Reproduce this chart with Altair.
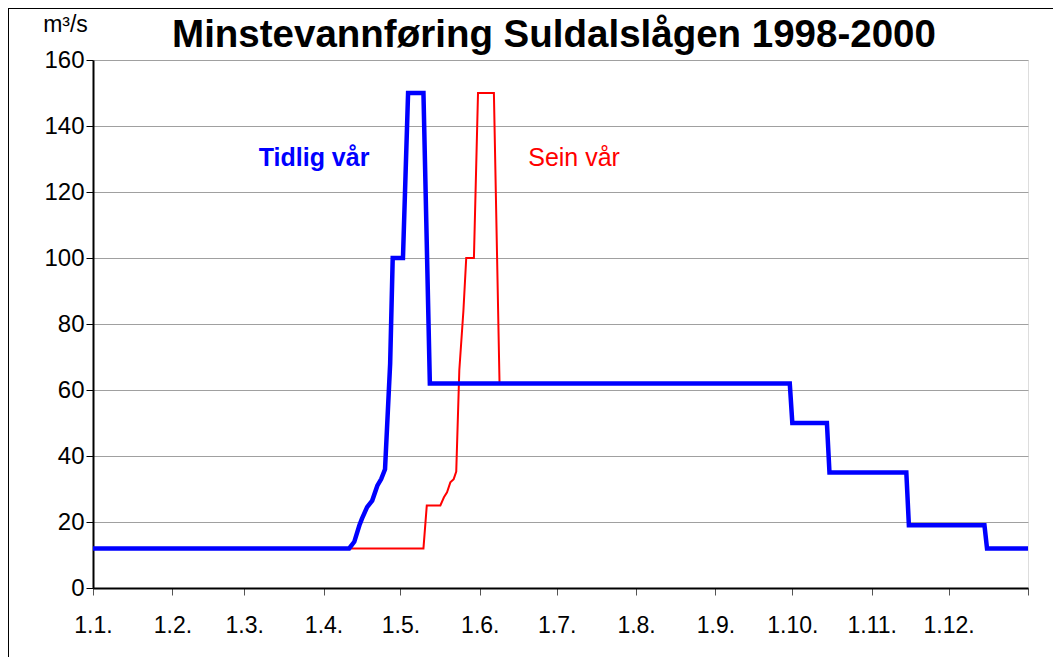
import altair as alt
import pandas as pd

# ---- data (day of year, m3/s) ----
blue_days = [1, 101, 103, 105, 106, 108, 110, 112, 113.5, 115, 117, 118, 122, 123, 124, 130, 132.5,
             273, 274, 287.5, 288.5, 318.5, 319.5, 349, 350, 366]
blue_vals = [12, 12, 14, 19, 21, 24.5, 26.5, 31, 33, 36, 68, 100, 100, 125, 150, 150, 62,
             62, 50, 50, 35, 35, 19, 19, 12, 12]

red_days = [1, 130, 131.3, 136.6, 138, 139.2, 140.5, 141.8, 142.8, 144, 145.6, 146.7, 149.7,
            151.3, 157.5, 159.7, 273, 274, 287.5, 288.5, 318.5, 319.5, 349, 350, 366]
red_vals = [12, 12, 25, 25, 27.5, 29, 32, 33, 35.3, 66, 84, 100, 100,
            150, 150, 62, 62, 50, 50, 35, 35, 19, 19, 12, 12]

month_days = [1, 32, 60, 91, 121, 152, 182, 213, 244, 274, 305, 335]
month_labels = ["1.1.", "1.2.", "1.3.", "1.4.", "1.5.", "1.6.", "1.7.", "1.8.",
                "1.9.", "1.10.", "1.11.", "1.12."]
year_end = 366

y_ticks = [0, 20, 40, 60, 80, 100, 120, 140, 160]

label_names = ["Tidlig vår", "Sein vår"]
label_days = [87.3, 188.8]
label_vals = [128, 128]

title_text = "Minstevannføring Suldalslågen 1998-2000"

FONT = "Liberation Sans"

blue_df = pd.DataFrame({"day": blue_days, "q": blue_vals, "order": range(len(blue_days))})
red_df = pd.DataFrame({"day": red_days, "q": red_vals, "order": range(len(red_days))})

# label expression for x axis
expr = "''"
for d, lab in reversed(list(zip(month_days, month_labels))):
    expr = f"datum.value == {d} ? '{lab}' : ({expr})"

x_scale = alt.Scale(domain=[1, year_end], nice=False, zero=False)
y_scale = alt.Scale(domain=[0, 160], nice=False)

x_enc = alt.X("day:Q", scale=x_scale,
              axis=alt.Axis(values=month_days + [year_end], labelExpr=expr, title=None,
                            grid=False, tickSize=7, tickColor="#555555",
                            domainColor="#000000", domainWidth=2,
                            labelFont=FONT, labelFontSize=23, labelColor="#000000",
                            labelPadding=19, labelFlush=False))
y_enc = alt.Y("q:Q", scale=y_scale,
              axis=alt.Axis(values=y_ticks, title="m³/s", titleAngle=0, titleX=-28, titleY=-29,
                            titleAlign="center", titleBaseline="alphabetic",
                            titleFont=FONT, titleFontSize=23, titleFontWeight="normal",
                            titleColor="#000000",
                            grid=True, gridColor="#a0a0a0", gridWidth=1,
                            tickSize=7, tickColor="#000000",
                            domainColor="#000000", domainWidth=2,
                            labelFont=FONT, labelFontSize=24, labelColor="#000000",
                            labelPadding=2))

red_line = alt.Chart(red_df).mark_line(color="#ff0000", strokeWidth=2).encode(
    x=x_enc, y=y_enc, order="order:Q")
blue_line = alt.Chart(blue_df).mark_line(color="#0000ff", strokeWidth=4.5).encode(
    x="day:Q", y="q:Q", order="order:Q")

lab_df = pd.DataFrame({"name": label_names, "day": label_days, "q": label_vals})
tidlig = alt.Chart(lab_df.iloc[[0]]).mark_text(
    font=FONT, fontSize=25, fontWeight="bold", color="#0000ff", baseline="alphabetic", align="center"
).encode(x="day:Q", y="q:Q", text="name:N")
sein = alt.Chart(lab_df.iloc[[1]]).mark_text(
    font=FONT, fontSize=25, color="#ff0000", baseline="alphabetic", align="center"
).encode(x="day:Q", y="q:Q", text="name:N")

# chart title as a text element above the plot area
title_mark = alt.Chart(pd.DataFrame({"t": [title_text]})).mark_text(
    font=FONT, fontSize=38.5, fontWeight="bold", color="#000000", baseline="alphabetic", align="center"
).encode(x=alt.value(461), y=alt.value(-13), text="t:N")

# outer chart-area frame (left and top edges)
frame_left = alt.Chart(pd.DataFrame({"a": [0]})).mark_rule(color="#000000", strokeWidth=1).encode(
    x=alt.value(-84.5), y=alt.value(-52), y2=alt.value(600))
frame_top = alt.Chart(pd.DataFrame({"a": [0]})).mark_rule(color="#000000", strokeWidth=1).encode(
    x=alt.value(-85), x2=alt.value(960), y=alt.value(-51.5))

chart = alt.layer(red_line, blue_line, tidlig, sein, title_mark, frame_left, frame_top).properties(
    width=935, height=528,
    autosize=alt.AutoSizeParams(type="none"),
    padding={"left": 85, "top": 52, "right": 26, "bottom": 69},
).configure_view(stroke="#000000", strokeWidth=1.5).configure(background="#ffffff")

chart.save("out.html", embed_options={"renderer": "svg", "actions": False})
